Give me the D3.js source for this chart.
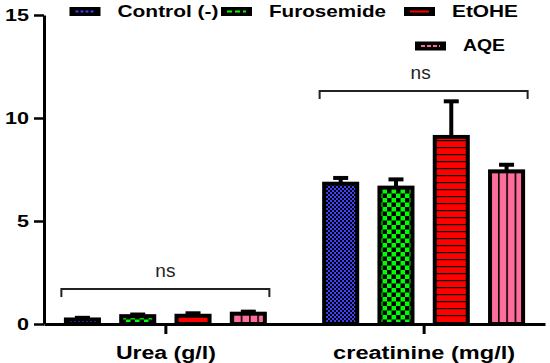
<!DOCTYPE html>
<html>
<head>
<meta charset="utf-8">
<script src="https://cdn.jsdelivr.net/npm/d3@7"></script>
<style>
  html, body { margin: 0; padding: 0; background: #fff; }
  svg { display: block; }
</style>
</head>
<body>
<svg id="chart" width="550" height="363"></svg>
<script>
// ---- data ----
const categories = ["Urea (g/l)", "creatinine (mg/l)"];
const groups = ["Control (-)", "Furosemide", "EtOHE", "AQE"];
const controlMean = [0.22, 6.81];
const controlErr  = [0.08, 0.28];
const furosemideMean = [0.38, 6.62];
const furosemideErr  = [0.08, 0.40];
const etoheMean = [0.40, 9.08];
const etoheErr  = [0.12, 1.73];
const aqeMean = [0.50, 7.41];
const aqeErr  = [0.10, 0.32];
const yTicks = [0, 5, 10, 15];
const sigLabels = ["ns", "ns"];
const sigLevels = [1.7, 11.31];

const means = [controlMean, furosemideMean, etoheMean, aqeMean];
const errs = [controlErr, furosemideErr, etoheErr, aqeErr];

const svg = d3.select("#chart");
const FONT = "'Liberation Sans', Arial, Helvetica, sans-serif";

// ---- patterns ----
const defs = svg.append("defs");
const colors = ["#4040ff", "#00ff00", "#ff0000", "#ff6d9c"];
const ids = ["pBlue", "pGreen", "pRed", "pPink"];
// blue fine checker
let p = defs.append("pattern").attr("id", ids[0]).attr("patternUnits", "userSpaceOnUse").attr("width", 4).attr("height", 4);
p.append("rect").attr("width", 4).attr("height", 4).attr("fill", colors[0]);
p.append("rect").attr("width", 2).attr("height", 2).attr("fill", "#000");
p.append("rect").attr("x", 2).attr("y", 2).attr("width", 2).attr("height", 2).attr("fill", "#000");
// green coarse checker
p = defs.append("pattern").attr("id", ids[1]).attr("patternUnits", "userSpaceOnUse").attr("width", 9).attr("height", 9);
p.append("rect").attr("width", 9).attr("height", 9).attr("fill", colors[1]);
p.append("rect").attr("width", 4.5).attr("height", 4.5).attr("fill", "#000");
p.append("rect").attr("x", 4.5).attr("y", 4.5).attr("width", 4.5).attr("height", 4.5).attr("fill", "#000");
// red horizontal stripes
p = defs.append("pattern").attr("id", ids[2]).attr("patternUnits", "userSpaceOnUse").attr("width", 7).attr("height", 7);
p.append("rect").attr("width", 7).attr("height", 7).attr("fill", colors[2]);
p.append("rect").attr("y", 0).attr("width", 7).attr("height", 1.2).attr("fill", "#000");
// pink vertical stripes
p = defs.append("pattern").attr("id", ids[3]).attr("patternUnits", "userSpaceOnUse").attr("width", 8.3).attr("height", 8);
p.append("rect").attr("width", 8.3).attr("height", 8).attr("fill", colors[3]);
p.append("rect").attr("x", 0).attr("width", 1.6).attr("height", 8).attr("fill", "#000");

// ---- scales ----
const y = d3.scaleLinear().domain([0, 15]).range([324, 15]);
const x0 = d3.scalePoint().domain(categories).range([44, 545]).padding(0.47);
const x1 = d3.scaleBand().domain(groups).range([-110.6, 110.6]).paddingInner(0.33).paddingOuter(0.165);
const bw = x1.bandwidth();

// ---- bars ----
const barData = [];
categories.forEach((c, ci) => {
  groups.forEach((g, gi) => {
    barData.push({ c, g, gi, v: means[gi][ci], e: errs[gi][ci] });
  });
});

const bars = svg.append("g");
bars.selectAll("rect").data(barData).join("rect")
  .attr("x", d => x0(d.c) + x1(d.g) + 2)
  .attr("width", bw - 4)
  .attr("y", d => y(d.v))
  .attr("height", d => y(0) - y(d.v))
  .attr("fill", d => `url(#${ids[d.gi]})`)
  .attr("stroke", "#000")
  .attr("stroke-width", 4);

// error bars
const eb = svg.append("g").attr("stroke", "#000").attr("stroke-width", 4);
eb.selectAll("line.stem").data(barData).join("line").attr("class", "stem")
  .attr("x1", d => x0(d.c) + x1(d.g) + bw / 2)
  .attr("x2", d => x0(d.c) + x1(d.g) + bw / 2)
  .attr("y1", d => y(d.v))
  .attr("y2", d => y(d.v + d.e));
eb.selectAll("line.cap").data(barData).join("line").attr("class", "cap")
  .attr("x1", d => x0(d.c) + x1(d.g) + bw / 2 - 7.5)
  .attr("x2", d => x0(d.c) + x1(d.g) + bw / 2 + 7.5)
  .attr("y1", d => y(d.v + d.e))
  .attr("y2", d => y(d.v + d.e));

// ---- axes ----
const yAxis = svg.append("g").attr("transform", "translate(44,0)")
  .call(d3.axisLeft(y).tickValues(yTicks).tickSize(10).tickSizeOuter(0).tickPadding(5));
yAxis.select(".domain").attr("stroke", "#000").attr("stroke-width", 3);
yAxis.selectAll(".tick line").attr("stroke", "#000").attr("stroke-width", 2.5);
yAxis.selectAll(".tick text")
  .attr("font-family", FONT).attr("font-weight", "bold").attr("font-size", 16.5).attr("fill", "#000")
  .attr("dy", "0.36em")
  .attr("textLength", d => String(d).length * 12)
  .attr("lengthAdjust", "spacingAndGlyphs");

const xAxis = svg.append("g").attr("transform", `translate(0,${y(0)})`)
  .call(d3.axisBottom(x0).tickSize(10).tickSizeOuter(0).tickPadding(12));
xAxis.select(".domain").attr("stroke", "#000").attr("stroke-width", 3);
xAxis.selectAll(".tick line").attr("stroke", "#000").attr("stroke-width", 3);
const xLabelWidths = { "Urea (g/l)": 100, "creatinine (mg/l)": 182 };
xAxis.selectAll(".tick text")
  .attr("font-family", FONT).attr("font-weight", "bold").attr("font-size", 18).attr("fill", "#000")
  .attr("textLength", d => xLabelWidths[d])
  .attr("lengthAdjust", "spacingAndGlyphs");

// ---- significance brackets ----
const sig = svg.append("g");
categories.forEach((c, ci) => {
  const cx = x0(c);
  const yt = y(sigLevels[ci]);
  sig.append("path")
    .attr("d", `M${cx - 104},${yt + 8}V${yt}H${cx + 104}V${yt + 8}`)
    .attr("fill", "none").attr("stroke", "#222").attr("stroke-width", 2);
  sig.append("text")
    .attr("x", cx - (ci === 0 ? 0 : 3)).attr("y", yt - 12)
    .attr("text-anchor", "middle")
    .attr("font-family", FONT).attr("font-size", 19).attr("fill", "#222")
    .text(sigLabels[ci]);
});

// ---- legend ----
const legendPos = [[69.5, 7], [221, 7], [404, 7], [415, 41.5]];
const legendTextW = [101, 117, 66, 42];
const legendDash = ["3,2", "5,3", null, "4,2"];
const lg = svg.append("g");
groups.forEach((g, i) => {
  const [lx, ly] = legendPos[i];
  lg.append("rect").attr("x", lx).attr("y", ly).attr("width", 31).attr("height", 9).attr("fill", "#000");
  lg.append("line")
    .attr("x1", lx + 6).attr("x2", lx + 25)
    .attr("y1", ly + 4.5).attr("y2", ly + 4.5)
    .attr("stroke", colors[i]).attr("stroke-width", 2)
    .attr("stroke-dasharray", legendDash[i]);
  lg.append("text")
    .attr("x", lx + 48).attr("y", ly + 9.5)
    .attr("font-family", FONT).attr("font-weight", "bold").attr("font-size", 17).attr("fill", "#000")
    .attr("textLength", legendTextW[i]).attr("lengthAdjust", "spacingAndGlyphs")
    .text(g);
});
</script>
</body>
</html>
